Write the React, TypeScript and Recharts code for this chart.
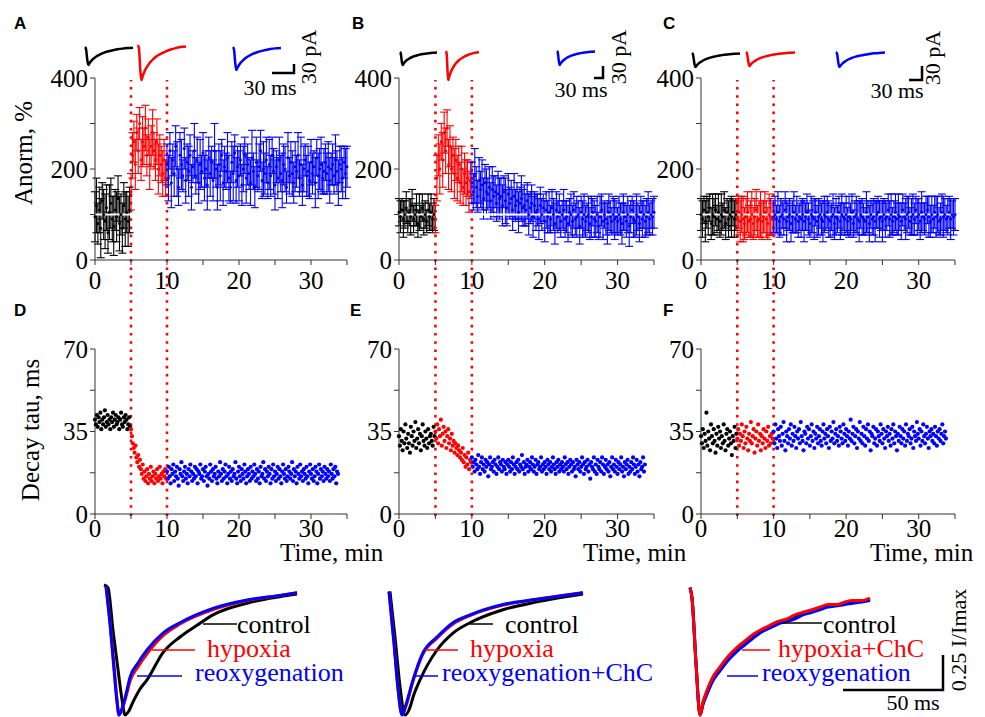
import React from "react";
import {
  ScatterChart,
  Scatter,
  ErrorBar,
  XAxis,
  YAxis,
  ReferenceLine,
  LineChart,
  Line,
} from "recharts";

const SERIF = '"Liberation Serif", "Times New Roman", serif';
const SANS = '"Liberation Sans", Arial, sans-serif';
const BLACK = "#000000";
const RED = "#ff0000";
const BLUE = "#0000ff";
const COLORS = [BLACK, RED, BLUE];

// time grids: amplitude recordings every 0.2 min, decay tau every 0.125 min
const AMP_STEP = 0.2;
const TAU_STEP = 0.125;
// index where hypoxia and reoxygenation start (5 and 10 min)
const AMP_CUT = [25, 50];
const TAU_CUT = [40, 80];
const TIME_TICKS = [0, 5, 10, 15, 20, 25, 30, 35];
const AMP_TICKS = [0, 100, 200, 300, 400];
const TAU_TICKS = [0, 17.5, 35, 52.5, 70];
const PHASE_MARKS = [5, 10];

// A: normalized amplitude, %
const ampA = [
  95, 120, 80, 110, 70, 130, 100, 85, 115, 60, 105, 125, 90, 75, 110, 95, 135, 80, 100, 70, 120, 90, 105, 85, 110,
  150, 230, 260, 210, 280, 240, 300, 220, 260, 250, 290, 230, 270, 210, 250, 280, 240, 220, 260, 200, 230, 210, 190, 220, 180,
  210, 180, 240, 170, 220, 190, 250, 200, 160, 230, 210, 185, 245, 175, 215, 195, 230, 160, 205, 240, 185, 220, 170, 210, 195, 235, 180, 200, 165, 225,
  190, 215, 175, 240, 200, 160, 210, 185, 230, 170, 205, 195, 225, 180, 160, 215, 190, 235, 175, 205,
  185, 220, 165, 200, 230, 180, 210, 190, 170, 225, 195, 160, 215, 185, 205, 240, 175, 200, 190, 220,
  170, 210, 185, 230, 195, 165, 205, 180, 220, 190, 175, 210, 200, 160, 225, 185, 215, 190, 170, 205,
  195, 230, 180, 210, 165, 200, 220, 185, 195, 175, 215, 190, 205, 170, 225, 185, 200, 210, 180, 195,
  215, 190, 205, 175, 200, 210, 185, 220, 195, 170, 210, 200, 180, 215, 190, 205,
];
const errA = [
  55, 60, 45, 50, 65, 40, 55, 60, 50, 45, 60, 55, 50, 65, 45, 55, 50, 60, 45, 55, 50, 60, 45, 55, 50,
  40, 50, 45, 55, 40, 50, 35, 45, 55, 40, 50, 45, 40, 55, 45, 50, 40, 45, 50, 55, 45, 40, 50, 45, 40,
  45, 50, 40, 55, 35, 50, 45, 60, 40, 50, 55, 35, 45, 50, 40, 55, 45, 50, 35, 60,
  40, 50, 45, 55, 35, 45, 50, 40, 55, 45, 50, 35, 45, 60, 40, 50, 45, 55, 35, 50,
  45, 40, 55, 50, 35, 45, 60, 40, 50, 45, 55, 35, 45, 50, 40, 55, 45, 35, 50, 60,
  40, 45, 55, 35, 50, 45, 40, 60, 45, 50, 35, 55, 45, 40, 50, 55, 35, 45, 50, 40,
  60, 45, 50, 35, 55, 40, 45, 50, 45, 55, 35, 50, 40, 60, 45, 50, 35, 45, 55, 40,
  50, 45, 35, 55, 40, 50, 45, 60, 35, 50, 40, 45, 55, 50, 35, 45, 40, 55, 45, 50,
  40, 50, 45, 35, 55, 45,
];

// B
const ampB = [
  105, 95, 110, 90, 100, 115, 85, 105, 95, 120, 90, 100, 110, 80, 105, 95, 115, 90, 100, 85, 110, 95, 105, 90, 100,
  90, 180, 230, 200, 260, 220, 280, 240, 290, 210, 250, 200, 230, 190, 220, 180, 210, 170, 200, 160, 190, 170, 180, 150, 175,
  170, 150, 185, 160, 140, 175, 155, 165, 135, 170, 150, 145, 160, 130, 155, 140, 150, 125, 145, 135,
  140, 120, 150, 130, 115, 145, 125, 135, 110, 140, 120, 130, 105, 125, 135, 115, 120, 110, 130, 100,
  115, 125, 95, 120, 105, 110, 90, 120, 100, 115, 85, 110, 95, 105, 90, 115, 100, 80, 110, 95,
  105, 85, 100, 110, 90, 95, 80, 105, 100, 85, 110, 90, 95, 100, 75, 105, 90, 100, 85, 95,
  100, 80, 95, 105, 90, 85, 100, 75, 95, 110, 85, 100, 90, 80, 105, 95, 85, 100, 90, 95,
  85, 100, 90, 80, 105, 95, 85, 100, 75, 95, 110, 90, 85, 100, 95, 80, 105, 90, 100, 85, 95, 105, 90, 100, 95, 105,
];
const errB = [
  30, 35, 25, 40, 30, 35, 25, 30, 40, 35, 30, 25, 35, 30, 40, 25, 30, 35, 30, 25, 35, 30, 40, 30, 35,
  30, 50, 45, 55, 40, 60, 45, 50, 40, 55, 45, 50, 40, 55, 45, 50, 40, 45, 50, 40, 45, 50, 40, 45, 40,
  45, 40, 60, 45, 35, 50, 40, 55, 45, 40, 50, 35, 45, 40, 50, 45, 35, 40, 50, 45,
  40, 45, 35, 50, 40, 45, 35, 40, 45, 50, 35, 40, 45, 35, 50, 40, 45, 35, 40, 45,
  35, 40, 45, 30, 40, 35, 45, 40, 35, 30, 45, 40, 35, 45, 30, 40, 35, 45, 40, 35,
  40, 35, 30, 45, 40, 35, 40, 30, 45, 35, 40, 35, 45, 30, 40, 35, 40, 45, 35, 30,
  40, 35, 45, 30, 40, 35, 40, 30, 45, 35, 40, 30, 35, 45, 40, 35, 30, 40, 45, 35,
  30, 40, 35, 45, 40, 30, 35, 40, 45, 35, 30, 40, 35, 45, 30, 40, 35, 40, 30, 35,
  40, 45, 35, 30, 40, 35,
];

// C
const ampC = [
  100, 90, 110, 85, 105, 95, 115, 80, 100, 95, 110, 90, 105, 85, 100, 95, 110, 80, 105, 90, 100, 95, 105, 90, 100,
  95, 105, 85, 100, 90, 80, 95, 105, 85, 90, 100, 80, 95, 110, 85, 90, 100, 85, 95, 105, 90, 80, 100, 95, 90,
  95, 100, 90, 105, 85, 95, 100, 90, 110, 85, 95, 100, 80, 95, 105, 90, 100, 85, 95, 90,
  100, 85, 95, 105, 90, 80, 100, 95, 90, 105, 85, 95, 100, 90, 85, 100, 95, 105, 90, 85,
  95, 100, 80, 95, 90, 105, 85, 100, 95, 90, 100, 85, 95, 90, 105, 80, 95, 100, 90, 85,
  100, 95, 90, 85, 105, 95, 80, 100, 90, 95, 85, 100, 105, 90, 95, 85, 100, 90, 95, 110,
  90, 100, 85, 95, 105, 90, 100, 95, 85, 110, 95, 90, 100, 105, 85, 95, 100, 90, 110, 95,
  100, 85, 105, 95, 90, 100, 110, 95, 85, 100, 90, 105, 95, 100, 85, 90, 105, 95, 100, 90,
  95, 105, 90, 100, 95, 100,
];
const errC = [
  35, 40, 30, 45, 35, 40, 30, 35, 45, 40, 35, 30, 40, 35, 45, 30, 40, 35, 30, 40, 35, 45, 30, 40, 35,
  40, 35, 45, 40, 50, 35, 40, 45, 35, 40, 50, 35, 40, 45, 35, 40, 50, 40, 35, 45, 40, 35, 45, 40, 35,
  35, 40, 30, 45, 35, 40, 30, 35, 40, 45, 30, 35, 40, 35, 45, 30, 40, 35, 30, 40,
  35, 45, 30, 40, 35, 30, 40, 35, 45, 30, 35, 40, 30, 35, 45, 40, 30, 35, 40, 35,
  30, 45, 35, 40, 30, 35, 40, 45, 30, 35, 40, 30, 45, 35, 40, 30, 35, 40, 35, 45,
  30, 40, 35, 30, 45, 35, 40, 30, 35, 40, 45, 30, 35, 40, 30, 45, 35, 40, 30, 35,
  40, 45, 30, 35, 40, 35, 45, 30, 40, 35, 30, 45, 40, 35, 30, 40, 45, 35, 30, 40,
  35, 40, 45, 30, 35, 40, 30, 45, 35, 40, 30, 35, 45, 40, 30, 35, 40, 45, 35, 30,
  40, 35, 45, 30, 40, 35,
];

// D-F: decay tau, ms
const tauD = [
  40, 38, 42, 37, 41, 39, 43, 36, 40, 38, 41, 44, 37, 39, 42, 38, 40, 36, 41, 39, 43, 37, 40, 42, 38, 39, 41, 36, 40, 43, 38, 37, 41, 39, 42, 40, 36, 38, 41, 37,
  36, 33, 30, 28, 26, 29, 24, 22, 25, 20, 23, 19, 17, 21, 15, 18, 14, 16, 19, 13, 17, 15, 20, 14, 16, 18, 13, 17, 15, 19, 14, 16, 20, 15, 17, 13, 18, 16, 19, 15,
  18, 15, 20, 16, 13, 19, 17, 21, 14, 18, 16, 20, 15, 12, 19, 17, 22, 16, 14, 18,
  20, 15, 17, 13, 19, 16, 21, 18, 14, 17, 15, 20, 16, 19, 13, 18, 17, 21, 15, 16,
  19, 14, 18, 20, 16, 12, 17, 15, 21, 18, 14, 19, 16, 17, 20, 15, 13, 18, 16, 22,
  17, 14, 19, 15, 18, 21, 16, 13, 17, 20, 15, 18, 14, 19, 16, 17, 22, 15, 13, 18,
  20, 16, 14, 19, 17, 15, 21, 18, 13, 16, 19, 17, 14, 20, 15, 18, 16, 21, 17, 14,
  19, 15, 18, 13, 20, 16, 17, 22, 15, 19, 14, 18, 16, 20, 17, 13, 19, 15, 21, 16,
  18, 14, 17, 20, 15, 19, 16, 13, 18, 21, 17, 15, 19, 14, 16, 20, 18, 15, 17, 22,
  14, 19, 16, 18, 13, 20, 17, 15, 21, 16, 18, 14, 19, 17, 15, 20, 16, 13, 18, 21,
  17, 15, 19, 14, 16, 20, 18, 13, 17, 21, 15, 19, 16, 18, 14, 20, 17, 15, 19, 16,
  18, 14, 21, 17, 15, 19, 16, 20, 13, 18, 17,
];
const tauE = [
  33, 29, 36, 31, 27, 35, 30, 38, 32, 28, 34, 30, 26, 37, 33, 29, 35, 31, 39, 28, 32, 36, 30, 34, 27, 33, 38, 31, 29, 35, 32, 28, 36, 30, 33, 34, 31, 29, 37, 33,
  35, 32, 38, 30, 36, 33, 40, 29, 34, 37, 31, 35, 28, 33, 36, 30, 32, 27, 34, 29, 31, 26, 30, 28, 25, 29, 27, 24, 26, 23, 28, 22, 25, 20, 24, 21, 26, 19, 23, 22,
  24, 20, 22, 18, 23, 21, 19, 25, 20, 17, 22, 24, 19, 21, 18, 23, 20, 22, 16, 21,
  24, 19, 20, 22, 18, 23, 21, 17, 20, 24, 19, 22, 21, 18, 23, 20, 19, 22, 17, 21,
  23, 20, 18, 22, 19, 24, 21, 17, 20, 22, 19, 23, 18, 21, 20, 25, 19, 22, 17, 20,
  21, 23, 18, 20, 22, 19, 24, 21, 18, 20, 23, 17, 21, 22, 19, 20, 24, 18, 21, 19,
  22, 20, 17, 23, 21, 19, 22, 18, 20, 24, 21, 19, 17, 22, 20, 23, 18, 21, 19, 22,
  20, 18, 24, 21, 19, 22, 17, 20, 23, 21, 18, 22, 19, 20, 16, 23, 21, 19, 22, 18,
  20, 24, 21, 17, 22, 19, 20, 23, 18, 21, 15, 22, 20, 19, 24, 18, 21, 17, 23, 20,
  19, 22, 18, 24, 21, 17, 20, 23, 19, 21, 18, 22, 16, 20, 24, 19, 21, 18, 23, 20,
  17, 22, 19, 21, 24, 18, 20, 16, 22, 19, 21, 23, 17, 20, 18, 22, 19, 24, 21, 17,
  20, 23, 18, 21, 16, 22, 19, 20, 24, 18, 21,
];
const tauF = [
  33, 30, 36, 28, 34, 31, 43, 29, 35, 32, 27, 38, 33, 30, 36, 31, 26, 34, 29, 37, 32, 35, 28, 33, 30, 38, 31, 27, 34, 36, 29, 32, 35, 30, 25, 33, 31, 37, 28, 34,
  32, 36, 29, 34, 31, 38, 33, 28, 35, 30, 37, 32, 27, 34, 31, 39, 30, 33, 36, 26, 32, 35, 29, 38, 31, 34, 27, 33, 30, 36, 32, 28, 35, 31, 37, 29, 33, 30, 34, 32,
  35, 30, 38, 32, 28, 36, 33, 31, 37, 29, 34, 39, 31, 27, 35, 33, 30, 36, 32, 38,
  29, 34, 31, 37, 33, 28, 35, 32, 36, 30, 39, 33, 31, 27, 35, 34, 30, 37, 32, 36,
  29, 33, 38, 31, 35, 28, 34, 32, 37, 30, 33, 36, 31, 29, 35, 38, 32, 34, 30, 36,
  33, 28, 37, 31, 35, 32, 39, 30, 34, 36, 31, 33, 29, 37, 35, 32, 30, 38, 34, 31,
  36, 33, 29, 35, 32, 40, 31, 34, 37, 30, 33, 36, 28, 35, 32, 39, 31, 34, 30, 37,
  33, 29, 36, 32, 38, 31, 35, 27, 34, 33, 37, 30, 32, 36, 29, 35, 33, 31, 38, 34,
  30, 36, 32, 28, 35, 33, 37, 31, 34, 29, 36, 32, 38, 30, 35, 33, 27, 34, 31, 37,
  33, 30, 36, 32, 35, 29, 38, 31, 34, 33, 36, 30, 32, 37, 28, 35, 33, 31, 39, 34,
  32, 36, 29, 35, 31, 38, 33, 30, 34, 37, 32, 28, 35, 33, 36, 31, 34, 30, 37, 33,
  29, 35, 32, 36, 31, 34, 38, 30, 33, 35, 32,
];

// example EPSC shape for the insets (time in % of sweep, current normalized)
const epscT = [0, 2, 5, 7, 10, 14, 19, 25, 32, 40, 49, 58, 68, 78, 88, 100];
const epscV = [0, -0.1, -0.75, -1, -0.88, -0.74, -0.62, -0.5, -0.4, -0.31, -0.24, -0.18, -0.13, -0.09, -0.06, -0.04];

// averaged normalized traces (ms, I/Imax)
const tL_ctrl = [2, 4, 6.5, 9, 11, 12.5, 14, 16.5, 20, 23.5, 31.5, 40, 48.5, 56.5, 73.5, 90, 98.5];
const vL_ctrl = [0, -0.02, -0.35, -0.65, -0.88, -1, -0.98, -0.9, -0.8, -0.73, -0.52, -0.4, -0.31, -0.23, -0.14, -0.09, -0.07];
const tL_hyp = [3, 5, 7, 8.5, 9.5, 11, 13, 15, 19, 23.5, 31.5, 40, 56.5, 73.5, 90, 98.5];
const vL_hyp = [-0.01, -0.28, -0.62, -0.88, -1, -0.96, -0.86, -0.74, -0.63, -0.53, -0.39, -0.3, -0.19, -0.12, -0.08, -0.06];
const vL_reox = [-0.01, -0.3, -0.65, -0.9, -1, -0.95, -0.84, -0.71, -0.6, -0.5, -0.37, -0.29, -0.18, -0.115, -0.08, -0.06];

const tM_ctrl = [1, 3.5, 6, 8.5, 10.5, 13, 16, 24.5, 32.5, 41, 57.5, 74.5, 97.5];
const vM_ctrl = [-0.05, -0.4, -0.78, -1, -0.96, -0.84, -0.73, -0.5, -0.37, -0.29, -0.19, -0.13, -0.07];
const tM_new = [0.5, 3, 5, 7, 9, 12.5, 17.5, 24.5, 32.5, 41, 57.5, 74.5, 97.5];
const vM_hyp = [-0.05, -0.44, -0.79, -1, -0.93, -0.74, -0.53, -0.41, -0.3, -0.235, -0.155, -0.11, -0.06];
const vM_reox = [-0.05, -0.45, -0.8, -1, -0.92, -0.73, -0.52, -0.4, -0.29, -0.23, -0.15, -0.11, -0.06];

const tR = [0, 1, 3, 5, 6.5, 8.5, 11, 15, 19, 23.5, 27.5, 31.5, 36, 40, 44, 48.5, 52.5, 56.5, 61, 65, 69, 73.5, 77.5, 81.5, 86, 90];
const vR_ctrl = [-0.02, -0.1, -0.6, -1, -0.91, -0.83, -0.74, -0.65, -0.57, -0.5, -0.45, -0.4, -0.35, -0.32, -0.29, -0.27, -0.25, -0.22, -0.2, -0.18, -0.16, -0.155, -0.14, -0.13, -0.125, -0.11];
const vR_hyp = [-0.02, -0.1, -0.6, -1, -0.9, -0.81, -0.72, -0.63, -0.55, -0.48, -0.43, -0.38, -0.34, -0.31, -0.28, -0.26, -0.23, -0.21, -0.19, -0.17, -0.15, -0.15, -0.13, -0.12, -0.12, -0.1];
const vR_reox = [-0.02, -0.1, -0.6, -1, -0.92, -0.84, -0.75, -0.66, -0.58, -0.51, -0.46, -0.41, -0.36, -0.33, -0.3, -0.28, -0.26, -0.23, -0.21, -0.19, -0.17, -0.16, -0.15, -0.14, -0.13, -0.12];

type Pt = { t: number; v: number; e?: number };

const byPhase = (vals: number[], errs: number[] | null, step: number, cut: number[]) => {
  const groups: Pt[][] = [[], [], []];
  vals.forEach((v, i) => {
    const g = i < cut[0] ? 0 : i < cut[1] ? 1 : 2;
    groups[g].push({ t: +(i * step).toFixed(3), v, e: errs ? errs[i] : undefined });
  });
  return groups;
};

const zip = (t: number[], v: number[]) => t.map((x, i) => ({ t: x, v: v[i] }));

const COLS = [
  { left: 95, w: 252 },
  { left: 399, w: 255 },
  { left: 701, w: 254 },
];
const TOP_ROW = { top: 78, h: 182 };
const BOTTOM_ROW = { top: 349, h: 165 };

const dot = (r: number, c: string) => (p: any) => <circle cx={p.cx} cy={p.cy} r={r} fill={c} />;
const noDot = () => <g />;

const Panel = ({
  col,
  row,
  groups,
  amp,
}: {
  col: { left: number; w: number };
  row: { top: number; h: number };
  groups: Pt[][];
  amp: boolean;
}) => {
  const yW = 60;
  const xH = 45;
  const mT = 20;
  const mR = 12;
  return (
    <div style={{ position: "absolute", left: col.left - yW, top: row.top - mT }}>
      <ScatterChart
        width={yW + col.w + mR}
        height={mT + row.h + xH}
        margin={{ top: mT, right: mR, bottom: 0, left: 0 }}
      >
        <XAxis
          type="number"
          dataKey="t"
          domain={[0, 35]}
          ticks={TIME_TICKS}
          interval={0}
          height={xH}
          tickSize={5}
          tickMargin={amp ? 6 : 0}
          axisLine={{ stroke: "#333" }}
          tickLine={{ stroke: "#333" }}
          tick={{ fill: "#000", fontSize: 25, fontFamily: SERIF }}
          tickFormatter={(v: number) => (v % 10 === 0 ? String(v) : "")}
        />
        <YAxis
          type="number"
          dataKey="v"
          domain={amp ? [0, 400] : [0, 70]}
          ticks={amp ? AMP_TICKS : TAU_TICKS}
          interval={0}
          width={yW}
          tickSize={5}
          tickMargin={2}
          axisLine={{ stroke: "#333" }}
          tickLine={{ stroke: "#333" }}
          tick={{ fill: "#000", fontSize: 25, fontFamily: SERIF }}
          tickFormatter={(v: number) =>
            amp ? (v % 200 === 0 ? String(v) : "") : v % 35 === 0 ? String(v) : ""
          }
        />
        {groups.map((g, i) => (
          <Scatter
            key={i}
            data={g}
            fill={COLORS[i]}
            shape={dot(amp ? 1.5 : 2.1, COLORS[i])}
            isAnimationActive={false}
          >
            {amp && (
              <ErrorBar dataKey="e" direction="y" width={4} stroke={COLORS[i]} strokeWidth={1.1} />
            )}
          </Scatter>
        ))}
        {amp && <ReferenceLine y={100} stroke="#ffffff" strokeWidth={2} />}
      </ScatterChart>
    </div>
  );
};

// red dotted lines marking hypoxia start/end across both rows of a column
const PhaseLines = ({ col }: { col: { left: number; w: number } }) => (
  <div style={{ position: "absolute", left: col.left, top: 80 }}>
    <ScatterChart width={col.w} height={436} margin={{ top: 0, right: 0, bottom: 0, left: 0 }}>
      <XAxis type="number" dataKey="t" domain={[0, 35]} hide />
      <YAxis type="number" dataKey="v" domain={[0, 1]} hide />
      <Scatter
        data={PHASE_MARKS.map((m) => ({ t: m, v: 0 }))}
        shape={noDot}
        isAnimationActive={false}
      />
      {PHASE_MARKS.map((m) => (
        <ReferenceLine key={m} x={m} stroke={RED} strokeWidth={2.6} strokeDasharray="2.6 5.6" />
      ))}
    </ScatterChart>
  </div>
);

const Inset = ({ x, y, w, h, color }: { x: number; y: number; w: number; h: number; color: string }) => (
  <div style={{ position: "absolute", left: x - 2, top: y - 2 }}>
    <LineChart width={w + 4} height={h + 4} data={zip(epscT, epscV)} margin={{ top: 2, right: 2, bottom: 2, left: 2 }}>
      <XAxis type="number" dataKey="t" domain={[0, 100]} hide />
      <YAxis type="number" domain={[-1, 0]} hide />
      <Line dataKey="v" type="monotone" stroke={color} strokeWidth={2.5} dot={false} isAnimationActive={false} />
    </LineChart>
  </div>
);

const Traces = ({ x0, lines }: { x0: number; lines: { data: { t: number; v: number }[]; color: string }[] }) => (
  <div style={{ position: "absolute", left: x0 - 5, top: 580 }}>
    <LineChart width={210} height={140} margin={{ top: 5, right: 5, bottom: 5, left: 5 }}>
      <XAxis type="number" dataKey="t" domain={[0, 100]} hide />
      <YAxis type="number" dataKey="v" domain={[-1, 0]} hide />
      {lines.map((l, i) => (
        <Line
          key={i}
          data={l.data}
          dataKey="v"
          type="monotone"
          stroke={l.color}
          strokeWidth={3}
          dot={false}
          isAnimationActive={false}
        />
      ))}
    </LineChart>
  </div>
);

const App: React.FC = () => {
  const gA = byPhase(ampA, errA, AMP_STEP, AMP_CUT);
  const gB = byPhase(ampB, errB, AMP_STEP, AMP_CUT);
  const gC = byPhase(ampC, errC, AMP_STEP, AMP_CUT);
  const gD = byPhase(tauD, null, TAU_STEP, TAU_CUT);
  const gE = byPhase(tauE, null, TAU_STEP, TAU_CUT);
  const gF = byPhase(tauF, null, TAU_STEP, TAU_CUT);

  const txt = { fontFamily: SERIF, fill: "#000" };

  return (
    <div
      style={{
        position: "absolute",
        left: 0,
        top: 0,
        width: 985,
        height: 717,
        overflow: "hidden",
        background: "#fff",
      }}
    >
      {COLS.map((c, i) => (
        <PhaseLines key={i} col={c} />
      ))}

      <Panel col={COLS[0]} row={TOP_ROW} groups={gA} amp />
      <Panel col={COLS[1]} row={TOP_ROW} groups={gB} amp />
      <Panel col={COLS[2]} row={TOP_ROW} groups={gC} amp />
      <Panel col={COLS[0]} row={BOTTOM_ROW} groups={gD} amp={false} />
      <Panel col={COLS[1]} row={BOTTOM_ROW} groups={gE} amp={false} />
      <Panel col={COLS[2]} row={BOTTOM_ROW} groups={gF} amp={false} />

      {/* example EPSCs above A-C */}
      <Inset x={85} y={47} w={48} h={18} color={BLACK} />
      <Inset x={138} y={45} w={48} h={35} color={RED} />
      <Inset x={233} y={47} w={48} h={23} color={BLUE} />
      <Inset x={400} y={52} w={37} h={13} color={BLACK} />
      <Inset x={446} y={51} w={33} h={29} color={RED} />
      <Inset x={557} y={51} w={38} h={14} color={BLUE} />
      <Inset x={692} y={53} w={48} h={14} color={BLACK} />
      <Inset x={746} y={52} w={49} h={14} color={RED} />
      <Inset x={836} y={52} w={49} h={15} color={BLUE} />

      {/* normalized traces */}
      <Traces
        x0={100}
        lines={[
          { data: zip(tL_ctrl, vL_ctrl), color: BLACK },
          { data: zip(tL_hyp, vL_hyp), color: RED },
          { data: zip(tL_hyp, vL_reox), color: BLUE },
        ]}
      />
      <Traces
        x0={388}
        lines={[
          { data: zip(tM_ctrl, vM_ctrl), color: BLACK },
          { data: zip(tM_new, vM_hyp), color: RED },
          { data: zip(tM_new, vM_reox), color: BLUE },
        ]}
      />
      <Traces
        x0={690}
        lines={[
          { data: zip(tR, vR_ctrl), color: BLACK },
          { data: zip(tR, vR_reox), color: BLUE },
          { data: zip(tR, vR_hyp), color: RED },
        ]}
      />

      {/* labels, scale bars */}
      <svg width={985} height={717} style={{ position: "absolute", left: 0, top: 0 }}>
        <g fontFamily={SANS} fontWeight="bold" fontSize={17} fill="#000">
          <text x={14} y={29}>A</text>
          <text x={352} y={29}>B</text>
          <text x={663} y={29}>C</text>
          <text x={14} y={316}>D</text>
          <text x={350} y={316}>E</text>
          <text x={663} y={316}>F</text>
        </g>

        <text {...txt} fontSize={25} textAnchor="middle" transform="translate(32,153) rotate(-90)">
          Anorm, %
        </text>
        <text {...txt} fontSize={25} textAnchor="middle" transform="translate(39,430) rotate(-90)">
          Decay tau, ms
        </text>
        <text {...txt} fontSize={25} x={280} y={561}>Time, min</text>
        <text {...txt} fontSize={25} x={583} y={561}>Time, min</text>
        <text {...txt} fontSize={25} x={870} y={561}>Time, min</text>

        {/* 30 ms / 30 pA bars */}
        <g stroke="#000" strokeWidth={2.5} fill="none">
          <path d="M272,73 H294 V64" />
          <path d="M594,78 H603 V66" />
          <path d="M909,80 H922 V66" />
          <path d="M843,690 H943 V655" />
        </g>
        <g {...txt} fontSize={22} textAnchor="middle">
          <text x={270} y={95}>30 ms</text>
          <text x={581} y={97}>30 ms</text>
          <text x={897} y={98}>30 ms</text>
          <text transform="translate(316,57) rotate(-90)">30 pA</text>
          <text transform="translate(626,57) rotate(-90)">30 pA</text>
          <text transform="translate(940,58) rotate(-90)">30 pA</text>
          <text x={913} y={710}>50 ms</text>
          <text transform="translate(966,640) rotate(-90)">0.25 I/Imax</text>
        </g>

        {/* trace legends */}
        <g strokeWidth={1.5}>
          <line x1={203} y1={624} x2={237} y2={624} stroke={BLACK} />
          <line x1={152} y1={650} x2={195} y2={650} stroke={RED} />
          <line x1={137} y1={676} x2={182} y2={676} stroke={BLUE} />
          <line x1={470} y1={624} x2={493} y2={624} stroke={BLACK} />
          <line x1={425} y1={650} x2={458} y2={650} stroke={RED} />
          <line x1={413} y1={676} x2={438} y2={676} stroke={BLUE} />
          <line x1={783} y1={623} x2={822} y2={623} stroke={BLACK} />
          <line x1={742} y1={650} x2={770} y2={650} stroke={RED} />
          <line x1={727} y1={676} x2={758} y2={676} stroke={BLUE} />
        </g>
        <g fontFamily={SERIF} fontSize={26}>
          <text x={237} y={633} fill={BLACK}>control</text>
          <text x={207} y={657} fill={RED}>hypoxia</text>
          <text x={195} y={681} fill={BLUE}>reoxygenation</text>
          <text x={505} y={633} fill={BLACK}>control</text>
          <text x={470} y={657} fill={RED}>hypoxia</text>
          <text x={442} y={681} fill={BLUE}>reoxygenation+ChC</text>
          <text x={823} y={633} fill={BLACK}>control</text>
          <text x={778} y={657} fill={RED}>hypoxia+ChC</text>
          <text x={762} y={681} fill={BLUE}>reoxygenation</text>
        </g>
      </svg>
    </div>
  );
};

export default App;
